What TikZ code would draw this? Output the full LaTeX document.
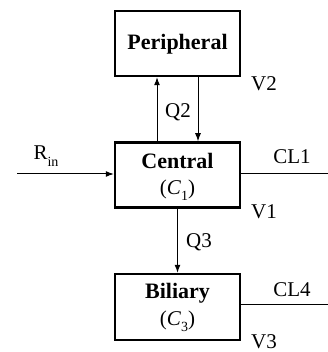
\documentclass[tikz,border=0pt]{standalone}
\usepackage{fontspec}
\setmainfont{Liberation Serif}
\usetikzlibrary{arrows.meta}
\begin{document}
\begin{tikzpicture}[x=1pt,y=-1pt,
  box/.style={draw,line width=2.5pt,minimum width=125pt,inner sep=0pt},
  flow/.style={line width=1pt,-{Latex[length=8pt,width=6pt]}},
  plain/.style={line width=1pt},
  btxt/.style={font=\bfseries\fontsize{22}{22}\selectfont,inner sep=0pt},
  lab/.style={font=\fontsize{21}{21}\selectfont,inner sep=0pt}]
\useasboundingbox (0,0) rectangle (328,352);
\node[box,minimum height=65pt] (per) at (177.5,43.5) {};
\node[box,minimum height=65pt] (cen) at (177.5,175) {};
\node[box,minimum height=66pt] (bil) at (177.5,307) {};
\node[btxt] (pert) at (177.5,44) {Peripheral};
\node[btxt] (cent) at (177.5,161) {Central};
\node[lab] (cens) at (177.5,190) {(\textit{C}\raisebox{-0.3em}{\fontsize{14}{14}\selectfont 1})};
\node[btxt] (bilt) at (177.5,293) {Biliary};
\node[lab] (bils) at (177.5,321) {(\textit{C}\raisebox{-0.3em}{\fontsize{14}{14}\selectfont 3})};
\coordinate (rin) at (17,174);
\coordinate (cl1) at (328,174);
\coordinate (cl4) at (328,304);
\draw[flow] (cen.north -| 157,0) -- (per.south -| 157,0);
\draw[flow] (per.south -| 198,0) -- (cen.north -| 198,0);
\draw[flow] (cen.south) -- (bil.north);
\draw[flow] (rin) -- (rin -| cen.west);
\draw[plain] (cen.east |- cl1) -- (cl1);
\draw[plain] (bil.east |- cl4) -- (cl4);
\node[lab] (q2) at (178,112) {Q2};
\node[lab] (q3) at (199,242) {Q3};
\node[lab] (v2) at (264,84) {V2};
\node[lab] (v1) at (264,212) {V1};
\node[lab] (v3) at (264,342) {V3};
\node[lab] (rl) at (46,156) {R\raisebox{-0.3em}{\fontsize{14}{14}\selectfont in}};
\node[lab] (c1l) at (292,157) {CL1};
\node[lab] (c4l) at (292,290) {CL4};
\end{tikzpicture}
\end{document}
